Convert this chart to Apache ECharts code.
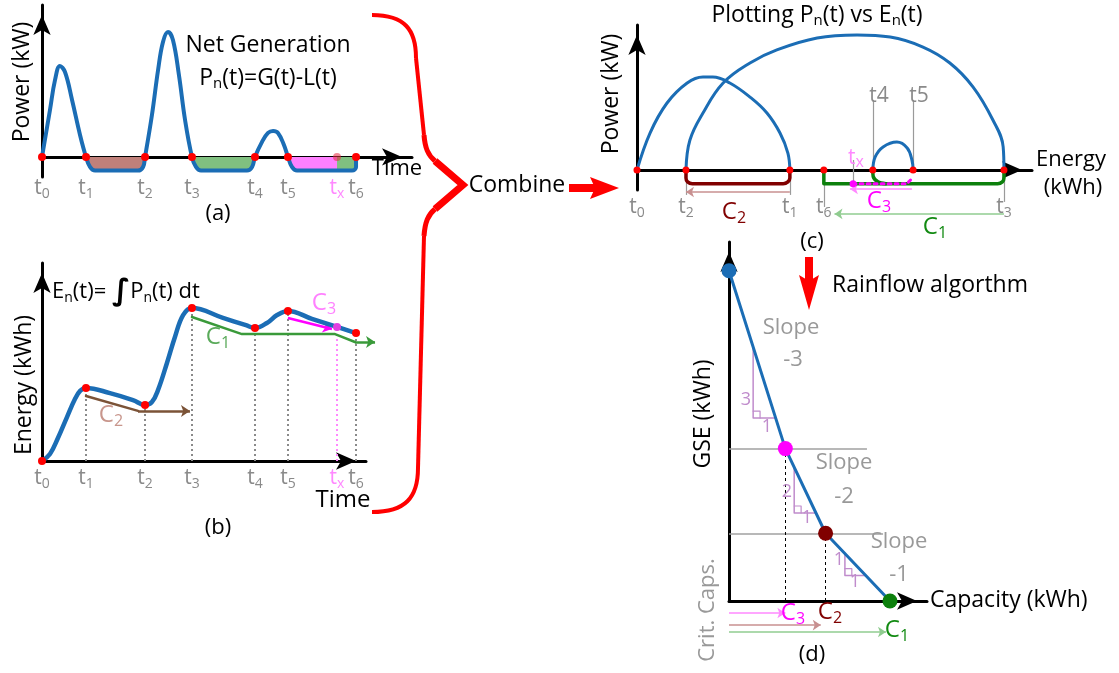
<!DOCTYPE html>
<html>
<head>
<meta charset="utf-8">
<script src="https://cdn.jsdelivr.net/npm/echarts@6/dist/echarts.min.js"></script>
<style>
  html, body { margin: 0; padding: 0; background: #fff; }
  #chart { width: 1119px; height: 673px; }
</style>
</head>
<body>
<div id="chart"></div>
<script>
// ---------------- (a) net generation P_n(t) ----------------
const eventNames = ['t0', 't1', 't2', 't3', 't4', 't5', 'tx', 't6'];
const eventTimes = [0, 2.87, 6.72, 9.78, 13.89, 16.04, 19.24, 20.48];          // h
const netPower = [                                                              // [h, kW]
  [0, 0], [0.52, 3.09], [0.85, 5.07], [1.17, 5.99], [1.5, 5.59], [1.96, 3.75], [2.48, 1.45],
  [2.87, 0], [3.13, -0.66], [3.46, -0.9], [6.26, -0.9], [6.59, -0.66], [6.72, 0],
  [7.17, 2.76], [7.57, 5.72], [7.89, 7.57], [8.22, 8.22], [8.54, 7.7], [8.93, 5.39], [9.33, 2.43],
  [9.78, 0], [10.04, -0.66], [10.37, -0.9], [13.37, -0.9], [13.7, -0.66], [13.89, 0],
  [14.35, 0.99], [14.74, 1.58], [15.07, 1.71], [15.39, 1.58], [15.78, 0.79], [16.04, 0],
  [16.3, -0.66], [16.63, -0.9], [19.24, -0.9], [20.22, -0.9], [20.48, -0.66], [20.48, 0]
];

// ---------------- (b) energy E_n(t) ----------------
const eventEnergy = [0, 3.69, 2.83, 7.73, 6.72, 7.58, 6.77, 6.46];             // kWh
const energyCurve = [
  [0, 0], [0.52, 0.35], [1.04, 1.16], [1.63, 2.22], [2.15, 3.13], [2.5, 3.55], [2.87, 3.69],
  [4.43, 3.43], [5.93, 3.08], [6.72, 2.83], [7.17, 2.98], [7.57, 3.59], [8.15, 4.95],
  [8.67, 6.26], [9.2, 7.37], [9.78, 7.73], [11.8, 7.23], [13.3, 6.86], [13.89, 6.72],
  [14.67, 6.97], [15.33, 7.37], [16.04, 7.58], [17.6, 7.18], [19.24, 6.77], [20.48, 6.46]
];
const cycleC2Path = [[2.87, 3.28], [6.26, 2.53], [9.65, 2.53]];
const cycleC1Path = [[9.78, 7.27], [13.04, 6.41], [19.11, 6.41], [20.41, 6.01], [21.72, 6.01]];
const cycleC3Path = [[16.04, 7.22], [18.91, 6.67]];

// ---------------- (c) P_n(t) against E_n(t) ----------------
const phaseNames = ['t0', 't2', 't1', 't6', 't3'];
const phaseEnergy = [0, 1.24, 3.87, 4.73, 9.29];
const upperNames = ['t4', 't5'];
const upperEnergy = [5.97, 6.99];
const txEnergy = 5.47;
const arcT0T1 = [[0, 0], [0.33, 2.55], [0.76, 4.62], [1.27, 6.0], [1.67, 6.41], [1.92, 6.41],
  [2.35, 6.0], [2.86, 5.03], [3.29, 3.93], [3.62, 2.55], [3.82, 1.17], [3.87, 0]];
const arcT2T3 = [[1.24, 0], [1.34, 2.07], [1.67, 3.93], [2.18, 6.0], [2.86, 7.38], [3.54, 8.28],
  [4.56, 9.1], [5.57, 9.31], [6.41, 9.17], [7.24, 8.48], [7.92, 7.38], [8.51, 5.72],
  [9.01, 3.45], [9.27, 1.59], [9.29, 0]];
const arcT4T5 = [[5.97, 0], [6.03, 0.9], [6.23, 1.59], [6.58, 1.93], [6.84, 1.52], [6.96, 0.69], [6.99, 0]];
const loopC2 = [[1.24, 0], [1.24, -0.55], [1.28, -0.82], [1.4, -0.95], [3.7, -0.95], [3.82, -0.82], [3.87, -0.55], [3.87, 0]];
const loopC1 = [[4.73, 0], [4.73, -0.95], [9.13, -0.95], [9.25, -0.82], [9.29, -0.55], [9.29, 0]];
const loopC1Inner = [[5.97, 0], [5.98, -0.45], [6.1, -0.82], [6.3, -0.95]];
const loopC3 = [[5.47, -0.95], [6.83, -0.95], [6.96, -0.6]];

// ---------------- (d) GSE against capacity ----------------
const critNames = ['C3', 'C2', 'C1'];
const critCaps = [3.5, 6, 10];                  // kWh
const gseCapacity = [0, 3.5, 6, 10];            // kWh
const gseValues = [19.5, 9, 4, 0];              // kWh
const slopeTriangles = [                        // [x, yTop, yBottom, xRight]
  [1.5, 15, 10.8, 2.9],
  [4.05, 7.9, 5.2, 5.4],
  [7.2, 2.8, 1.5, 8.5]
];

// ---------------- styling ----------------
const FONT = "'Open Sans', 'Noto Sans', 'DejaVu Sans', sans-serif";
const BLUE = '#1b6db5';
const GRAY = '#8a8a8a';
const PINK = '#ff88ff';
const MAGENTA = '#ff00ff';
const DARKRED = '#800000';
const GREEN = '#128a12';
const LILAC = '#c08ccc';

function tRich(color) {
  return {
    t: { fontFamily: FONT, fontSize: 21, lineHeight: 25, color, verticalAlign: 'middle' },
    s: { fontFamily: FONT, fontSize: 14, lineHeight: 14, color, verticalAlign: 'bottom' },
    tp: { fontFamily: FONT, fontSize: 21, lineHeight: 25, color: PINK, verticalAlign: 'middle' },
    sp: { fontFamily: FONT, fontSize: 14, lineHeight: 14, color: PINK, verticalAlign: 'bottom' }
  };
}
function tFormatter(names, values) {
  return function (v) {
    let k = 0;
    values.forEach((x, i) => { if (Math.abs(x - v) < Math.abs(values[k] - v)) k = i; });
    const n = names[k];
    return n === 'tx' ? '{tp|t}{sp|x}' : '{t|t}{s|' + n.slice(1) + '}';
  };
}

function axis(gridIndex, min, max, labels) {
  const a = {
    type: 'value', gridIndex, min, max,
    axisLine: {
      show: true, onZero: true, symbol: ['none', 'arrow'], symbolSize: [13, 20], symbolOffset: [0, -10],
      lineStyle: { color: '#000', width: 3 }
    },
    axisTick: { show: false }, splitLine: { show: false }, axisLabel: { show: false }
  };
  if (labels) {
    a.axisLabel = {
      show: true, customValues: labels.values, margin: labels.margin,
      formatter: tFormatter(labels.names, labels.values), rich: tRich(GRAY)
    };
  }
  return a;
}

function pathSeries(gi, pts, color, width, opt) {
  opt = opt || {};
  const s = {
    type: 'line', xAxisIndex: gi, yAxisIndex: gi, data: pts, showSymbol: false, symbol: 'none',
    smooth: opt.smooth || false, clip: false, silent: true, z: opt.z || 3,
    lineStyle: { color, width, type: opt.type || 'solid', cap: 'round', join: 'round', opacity: opt.hideLine ? 0 : 1 }
  };
  if (opt.area) s.areaStyle = { color: opt.area, opacity: 1 };
  return s;
}
function segSeries(gi, segments, color, width, opt) {
  opt = opt || {};
  return {
    type: 'lines', coordinateSystem: 'cartesian2d', xAxisIndex: gi, yAxisIndex: gi,
    clip: false, silent: true, z: opt.z || 2,
    symbol: opt.head ? ['none', 'arrow'] : ['none', 'none'], symbolSize: opt.head || 0,
    lineStyle: { color, width, type: opt.type || 'solid', opacity: 1, curveness: 0 },
    data: segments.map(c => ({ coords: c }))
  };
}
function arrowPath(gi, pts, color, width, head, z) {
  const out = [];
  if (pts.length > 2) out.push(pathSeries(gi, pts.slice(0, -1), color, width, { z }));
  out.push(segSeries(gi, [pts.slice(-2)], color, width, { head, z }));
  return out;
}
function dotSeries(gi, pts, size, colors, z) {
  return {
    type: 'scatter', xAxisIndex: gi, yAxisIndex: gi, symbolSize: size, silent: true, clip: false, z: z || 6,
    data: pts.map((p, i) => ({ value: p, itemStyle: { color: Array.isArray(colors) ? colors[i] : colors, opacity: 1 } }))
  };
}
const inRange = (a, b) => netPower.filter(p => p[0] >= a - 1e-9 && p[0] <= b + 1e-9);
const T = name => eventTimes[eventNames.indexOf(name)];
const E = name => eventEnergy[eventNames.indexOf(name)];

const series = [];

// (a) coloured deficit regions, then the power curve and its zero crossings
series.push(pathSeries(0, inRange(T('t1'), T('t2')), '#000', 0, { area: '#c0807a', hideLine: true, smooth: 0.4, z: 1 }));
series.push(pathSeries(0, inRange(T('t3'), T('t4')), '#000', 0, { area: '#80c080', hideLine: true, smooth: 0.4, z: 1 }));
series.push(pathSeries(0, inRange(T('t5'), T('tx')), '#000', 0, { area: '#ff80ff', hideLine: true, smooth: 0.4, z: 1 }));
series.push(pathSeries(0, inRange(T('tx'), T('t6')), '#000', 0, { area: '#80c080', hideLine: true, smooth: 0.4, z: 1 }));
series.push(pathSeries(0, netPower, BLUE, 4, { smooth: 0.4, z: 4 }));
series.push(dotSeries(0, eventTimes.map(t => [t, 0]), 8,
  eventNames.map(n => n === 'tx' ? 'rgba(230,40,60,0.55)' : '#ff0000')));

// (b) energy curve with its drop lines and the three cycles
series.push(segSeries(1, eventNames.map((n, i) => [[eventTimes[i], 0], [eventTimes[i], eventEnergy[i]]])
  .filter((c, i) => eventNames[i] !== 't0' && eventNames[i] !== 'tx'), GRAY, 2, { type: [2, 3] }));
series.push(segSeries(1, [[[T('tx'), 0], [T('tx'), E('tx')]]], PINK, 2, { type: [2, 3] }));
series.push(pathSeries(1, energyCurve, BLUE, 4.5, { smooth: 0.4, z: 4 }));
series.push(...arrowPath(1, cycleC2Path, '#7b5337', 2.5, 9, 3));
series.push(...arrowPath(1, cycleC1Path, '#3a9a3a', 2.5, 9, 3));
series.push(...arrowPath(1, cycleC3Path, MAGENTA, 2.5, 9, 3));
series.push(dotSeries(1, eventTimes.map((t, i) => [t, eventEnergy[i]]), 8,
  eventNames.map(n => n === 'tx' ? '#e040e0' : '#ff0000')));

// (c) phase plot: guides, cycle spans, loops under the axis and the arcs
series.push(segSeries(2, [
  [[phaseEnergy[1], 0], [phaseEnergy[1], -1.72]],
  [[phaseEnergy[2], 0], [phaseEnergy[2], -1.72]],
  [[phaseEnergy[3], 0], [phaseEnergy[3], -2.55]],
  [[phaseEnergy[4], 0], [phaseEnergy[4], -2.2]],
  [[upperEnergy[0], 0], [upperEnergy[0], 4.83]],
  [[upperEnergy[1], 0], [upperEnergy[1], 4.83]],
  [[txEnergy, 0.69], [txEnergy, -1.03]]
], '#9a9a9a', 1.2));
series.push(segSeries(2, [[[phaseEnergy[2], -1.52], [phaseEnergy[1], -1.52]]], '#c89090', 1.5, { head: 8 }));
series.push(segSeries(2, [[[phaseEnergy[4], -3.03], [5.0, -3.03]]], '#90cc90', 1.5, { head: 8 }));
series.push(segSeries(2, [[[6.96, -1.31], [5.39, -1.31]]], PINK, 1.5, { head: 8 }));
series.push(pathSeries(2, loopC2, DARKRED, 3.5, { smooth: 0.3, z: 3 }));
series.push(pathSeries(2, loopC1, '#0c800c', 3.5, { smooth: 0.3, z: 3 }));
series.push(pathSeries(2, loopC1Inner, '#0c800c', 3.5, { smooth: 0.3, z: 3 }));
series.push(pathSeries(2, loopC3, MAGENTA, 3, { type: [3, 4], z: 4 }));
series.push(pathSeries(2, arcT0T1, BLUE, 3, { smooth: 0.4, z: 4 }));
series.push(pathSeries(2, arcT2T3, BLUE, 3, { smooth: 0.4, z: 4 }));
series.push(pathSeries(2, arcT4T5, BLUE, 3, { smooth: 0.4, z: 4 }));
series.push(dotSeries(2, phaseEnergy.concat(upperEnergy).map(e => [e, 0]), 7, '#ff0000'));
series.push(dotSeries(2, [[txEnergy, -0.95]], 7, MAGENTA));

// (d) GSE curve, slope triangles and critical capacities
series.push(segSeries(3, [
  [[0, gseValues[1]], [8.57, gseValues[1]]],
  [[0, gseValues[2]], [9.57, gseValues[2]]]
], '#a0a0a0', 1.5));
series.push(segSeries(3, [
  [[critCaps[0], 0], [critCaps[0], gseValues[1]]],
  [[critCaps[1], 0], [critCaps[1], gseValues[2]]]
], '#000', 1, { type: [3, 3] }));
slopeTriangles.forEach(tr => {
  const [x, yt, yb, xr] = tr;
  series.push(pathSeries(3, [[x, yt], [x, yb], [xr, yb]], LILAC, 1.5, { z: 2 }));
  series.push(pathSeries(3, [[x, yb + 0.41], [x + 0.43, yb + 0.41], [x + 0.43, yb]], LILAC, 1.2, { z: 2 }));
});
series.push(pathSeries(3, gseCapacity.map((c, i) => [c, gseValues[i]]), BLUE, 3, { z: 4 }));
series.push(dotSeries(3, gseCapacity.map((c, i) => [c, gseValues[i]]), 15,
  [BLUE, MAGENTA, DARKRED, '#0c800c']));
series.push(segSeries(3, [[[0, -0.71], [critCaps[0], -0.71]]], PINK, 1.5, { head: 8 }));
series.push(segSeries(3, [[[0, -1.42], [5.7, -1.42]]], '#c89090', 1.5, { head: 8 }));
series.push(segSeries(3, [[[0, -1.83], [9.75, -1.83]]], '#90cc90', 1.5, { head: 8 }));

// ---------------- annotations ----------------
function rich(size, sub, color) {
  return {
    n: { fontFamily: FONT, fontSize: size, lineHeight: size + 4, fill: color, verticalAlign: 'middle' },
    s: { fontFamily: FONT, fontSize: sub, lineHeight: sub, fill: color, verticalAlign: 'bottom' },
    i: { fontFamily: 'DejaVu Sans', fontSize: size + 8, fontWeight: 'bold', lineHeight: size + 4, fill: color, verticalAlign: 'middle' }
  };
}
function text(x, y, str, o) {
  o = o || {};
  const size = o.size || 23;
  return {
    type: 'text', x, y, rotation: o.rot ? Math.PI / 2 : 0, z: 100, silent: true,
    style: {
      text: str, fill: o.color || '#000', fontFamily: FONT, fontSize: size,
      align: o.align || 'center', verticalAlign: 'middle',
      rich: rich(size, o.sub || Math.round(size * 0.65), o.color || '#000')
    }
  };
}
const C = (n, d) => '{n|' + n + '}{s|' + d + '}';

const graphics = [
  // (a)
  text(268, 45, 'Net Generation'),
  text(268, 78, '{n|P}{s|n}{n|(t)=G(t)-L(t)}'),
  text(22, 82, 'Power (kW)', { rot: true }),
  text(397, 169, 'Time', { size: 22 }),
  text(218, 214, '(a)', { size: 22 }),
  // (b)
  text(52, 292, '{n|E}{s|n}{n|(t)= }{i|∫}{n|P}{s|n}{n|(t) dt}', { align: 'left', size: 22 }),
  text(24, 385, 'Energy (kWh)', { rot: true }),
  text(343, 500, 'Time', { size: 24 }),
  text(218, 528, '(b)', { size: 22 }),
  text(111, 415, C('C', 2), { size: 24, color: '#c8968c' }),
  text(218, 337, C('C', 1), { size: 24, color: '#5aaa5a' }),
  text(324, 303, C('C', 3), { size: 24, color: '#ff80ff' }),
  // (c)
  text(817, 15, '{n|Plotting P}{s|n}{n|(t) vs E}{s|n}{n|(t)}', { size: 23 }),
  text(611, 94, 'Power (kW)', { rot: true }),
  text(1071, 160, 'Energy', { size: 22 }),
  text(1073, 188, '(kWh)', { size: 22 }),
  text(879, 96, '{n|t4}', { size: 21, color: GRAY }),
  text(919, 96, '{n|t5}', { size: 21, color: GRAY }),
  text(856, 158, C('t', 'x'), { size: 21, sub: 16, color: PINK }),
  text(734, 212, C('C', 2), { size: 24, color: DARKRED }),
  text(879, 201, C('C', 3), { size: 24, color: MAGENTA }),
  text(935, 227, C('C', 1), { size: 24, color: GREEN }),
  text(812, 242, '(c)', { size: 22 }),
  // (d)
  text(832, 285, 'Rainflow algorthm', { align: 'left' }),
  text(791, 328, 'Slope', { size: 22, color: '#999' }),
  text(793, 360, '-3', { size: 22, color: '#999' }),
  text(844, 463, 'Slope', { size: 22, color: '#999' }),
  text(844, 497, '-2', { size: 22, color: '#999' }),
  text(899, 542, 'Slope', { size: 22, color: '#999' }),
  text(899, 575, '-1', { size: 22, color: '#999' }),
  text(746, 400, '3', { size: 18, color: LILAC }),
  text(767, 427, '1', { size: 18, color: LILAC }),
  text(787, 492, '2', { size: 18, color: LILAC }),
  text(807, 518, '1', { size: 18, color: LILAC }),
  text(839, 560, '1', { size: 18, color: LILAC }),
  text(855, 582, '1', { size: 18, color: LILAC }),
  text(703, 414, 'GSE (kWh)', { rot: true }),
  text(708, 610, 'Crit. Caps.', { rot: true, color: '#999', size: 22 }),
  text(930, 600, 'Capacity (kWh)', { align: 'left' }),
  text(793, 613, C('C', 3), { size: 24, color: MAGENTA }),
  text(830, 612, C('C', 2), { size: 24, color: DARKRED }),
  text(897, 630, C('C', 1), { size: 24, color: GREEN }),
  text(812, 655, '(d)', { size: 22 }),
  // brace joining (a) and (b)
  { type: 'bezierCurve', z: 90, silent: true, shape: { x1: 372, y1: 15, cpx1: 405, cpy1: 15, cpx2: 416, cpy2: 30, x2: 416, y2: 58 }, style: { stroke: '#ff0000', lineWidth: 4, fill: 'none' } },
  { type: 'line', z: 90, silent: true, shape: { x1: 416, y1: 58, x2: 424, y2: 135 }, style: { stroke: '#ff0000', lineWidth: 4 } },
  { type: 'bezierCurve', z: 90, silent: true, shape: { x1: 424, y1: 135, cpx1: 425, cpy1: 148, cpx2: 428, cpy2: 155, x2: 435, y2: 161 }, style: { stroke: '#ff0000', lineWidth: 5, fill: 'none' } },
  { type: 'polyline', z: 90, silent: true, shape: { points: [[435, 161], [463, 185], [435, 209]] }, style: { stroke: '#ff0000', lineWidth: 7, fill: 'none', lineJoin: 'miter' } },
  { type: 'bezierCurve', z: 90, silent: true, shape: { x1: 435, y1: 209, cpx1: 428, cpy1: 215, cpx2: 425, cpy2: 222, x2: 424, y2: 236 }, style: { stroke: '#ff0000', lineWidth: 5, fill: 'none' } },
  { type: 'line', z: 90, silent: true, shape: { x1: 424, y1: 236, x2: 418, y2: 468 }, style: { stroke: '#ff0000', lineWidth: 4 } },
  { type: 'bezierCurve', z: 90, silent: true, shape: { x1: 418, y1: 468, cpx1: 418, cpy1: 498, cpx2: 405, cpy2: 512, x2: 372, y2: 512 }, style: { stroke: '#ff0000', lineWidth: 4, fill: 'none' } },
  // "Combine" label and its arrow
  text(517, 185, 'Combine'),
  { type: 'rect', z: 90, silent: true, shape: { x: 569, y: 184, width: 26, height: 8 }, style: { fill: '#ff0000' } },
  { type: 'polygon', z: 90, silent: true, shape: { points: [[590, 177], [619, 188], [590, 199], [595, 188]] }, style: { fill: '#ff0000' } },
  // rainflow arrow
  { type: 'rect', z: 90, silent: true, shape: { x: 805, y: 257, width: 8, height: 24 }, style: { fill: '#ff0000' } },
  { type: 'polygon', z: 90, silent: true, shape: { points: [[799, 275], [809, 281], [819, 275], [809, 310]] }, style: { fill: '#ff0000' } }
];

const option = {
  animation: false,
  backgroundColor: '#fff',
  grid: [
    { left: 42, top: 5, width: 370, height: 172, outerBoundsMode: 'none' },
    { left: 42, top: 263, width: 324, height: 198, outerBoundsMode: 'none' },
    { left: 637, top: 25, width: 395, height: 165, outerBoundsMode: 'none' },
    { left: 729, top: 242, width: 198, height: 359, outerBoundsMode: 'none' }
  ],
  xAxis: [
    axis(0, 0, 24.13, { names: eventNames, values: eventTimes, margin: -1 }),
    axis(1, 0, 21.13, { names: eventNames, values: eventTimes, margin: 5 }),
    axis(2, 0, 10, { names: phaseNames, values: phaseEnergy, margin: 5 }),
    axis(3, 0, 12.3)
  ],
  yAxis: [
    axis(0, -1.32, 10),
    axis(1, 0, 10),
    axis(2, -1.38, 10),
    axis(3, 0, 21.2)
  ],
  series,
  graphic: { elements: graphics }
};

const chart = echarts.init(document.getElementById('chart'), null, { renderer: 'canvas' });
chart.setOption(option);
</script>
</body>
</html>
